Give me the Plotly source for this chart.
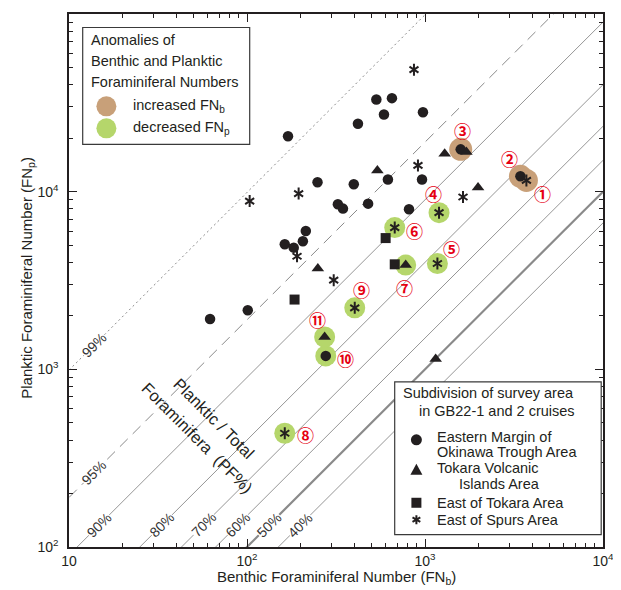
import numpy as np
import plotly.graph_objects as go

# ---------------- data ----------------
# Eastern Margin of Okinawa Trough Area (circles)
em_B = [170, 420, 533, 652, 588, 974, 249, 398, 619, 962, 324, 346, 479, 813,
        214, 206, 163, 183, 101, 62, 1587, 3436, 277]
em_P = [20500, 24100, 33000, 33600, 27200, 28000, 11300, 11000, 11700, 11700,
        8490, 8030, 8560, 7960, 6010, 5260, 5060, 4840, 2150, 1920, 17300, 12200, 1190]
# Tokara Volcanic Islands Area (triangles)
tv_B = [1708, 1290, 540, 1986, 250, 779, 273, 1148]
tv_P = [16700, 16350, 13170, 10570, 3690, 3860, 1520, 1143]
# East of Tokara Area (squares)
et_B = [185, 601, 676]
et_P = [2470, 5480, 3900]
# East of Spurs Area (asterisks)
es_B = [867, 913, 1635, 3713, 195, 103.5, 191, 307, 1199, 676, 1174, 403, 163]
es_P = [48600, 14050, 9330, 11570, 9750, 8850, 4330, 3175, 7620, 6280, 3940, 2220, 437]

# Anomalies (numbered samples)
anom_no = [1, 2, 3, 4, 5, 6, 7, 8, 9, 10, 11]
anom_B = [3713, 3436, 1587, 1199, 1174, 676, 779, 163, 403, 277, 273]
anom_P = [11570, 12200, 17300, 7620, 3940, 6280, 3860, 437, 2220, 1190, 1520]
anom_kind = ["b", "b", "b", "p", "p", "p", "p", "p", "p", "p", "p"]

# PF% reference lines
pf_levels = [99, 95, 90, 80, 70, 60, 50, 40]
pf_label_P = [1370, 261, 133, 133, 133, 133, 133, 133]

x_tickvals = [10, 100, 1000, 10000]
x_ticktext = ["10", "10<sup>2</sup>", "10<sup>3</sup>", "10<sup>4</sup>"]
y_tickvals = [100, 1000, 10000, 100000]
y_ticktext = ["10<sup>2</sup>", "10<sup>3</sup>", "10<sup>4</sup>", "10<sup>5</sup>"]

# ---------------- layout helpers ----------------
OFF = 8                      # page body margin of the html page
SW, SH = 621, 590            # screen size
PL, PR, PT, PB = 69.3, 603.3, 13.5, 547.3   # plot area in screen pixels
PW, PH = PR - PL, PB - PT
W, H = SW - OFF, SH - OFF
def PX(px): return (px - PL) / PW
def PY(py): return (PB - py) / PH

FONT = "Liberation Sans, Arial, Helvetica, sans-serif"
INK = "#231f20"
TAN = "#c8a079"
GREEN = "#b5d66b"
RED = "#e60012"

fig = go.Figure()

# reference lines
for lev in pf_levels:
    r = lev / (100 - lev)
    xs = [10, 10000]
    ys = [v * r for v in xs]
    if lev == 99:
        line = dict(color="#8a8a8a", width=1, dash="2px,3px")
    elif lev == 95:
        line = dict(color="#8a8a8a", width=1, dash="11px,7px")
    elif lev == 50:
        line = dict(color="#8a8a8a", width=2.2)
    else:
        line = dict(color="#8a8a8a", width=0.9)
    fig.add_trace(go.Scatter(x=xs, y=ys, mode="lines", line=line,
                             hoverinfo="skip", showlegend=False))

# anomaly halos
for kind, col, sz in [("b", TAN, 23), ("p", GREEN, 21)]:
    bx = [b for b, k in zip(anom_B, anom_kind) if k == kind]
    py_ = [p for p, k in zip(anom_P, anom_kind) if k == kind]
    fig.add_trace(go.Scatter(x=bx, y=py_, mode="markers",
                             marker=dict(size=sz, color=col, line=dict(width=0)),
                             showlegend=False, hoverinfo="skip"))

# data markers
fig.add_trace(go.Scatter(x=em_B, y=em_P, mode="markers",
                         marker=dict(symbol="circle", size=10.5, color=INK),
                         showlegend=False))
fig.add_trace(go.Scatter(x=tv_B, y=tv_P, mode="markers",
                         marker=dict(symbol="triangle-up", size=11, color=INK),
                         showlegend=False))
fig.add_trace(go.Scatter(x=et_B, y=et_P, mode="markers",
                         marker=dict(symbol="square", size=10, color=INK),
                         showlegend=False))
for sym in ["y-up-open", "y-down-open"]:
    fig.add_trace(go.Scatter(x=es_B, y=es_P, mode="markers",
                             marker=dict(symbol=sym, size=7.5, color=INK,
                                         line=dict(width=2, color=INK)),
                             showlegend=False))

annotations = []
def ann(x, y, text, size=14.5, xanchor="center", yanchor="middle", angle=0, **kw):
    annotations.append(dict(x=x, y=y, xref="paper", yref="paper", text=text,
                            showarrow=False, xanchor=xanchor, yanchor=yanchor,
                            textangle=angle,
                            font=dict(family=FONT, size=size, color=INK), **kw))

# circled number labels
offsets = {1: (16, 13), 2: (-11, -18), 3: (2, -19), 4: (-6, -19), 5: (14, -15),
           6: (20, 3), 7: (-1, 22), 8: (21, 1), 9: (7, -18), 10: (20, 3), 11: (-7, -18)}
for n, b, p in zip(anom_no, anom_B, anom_P):
    dx, dy = offsets[n]
    annotations.append(dict(x=np.log10(b), y=np.log10(p), xref="x", yref="y",
                            text=chr(0x245F + n), showarrow=False,
                            xanchor="center", yanchor="middle",
                            xshift=dx, yshift=-dy,
                            font=dict(family="Noto Sans CJK JP", size=17, color=RED,
                                      weight="bold")))

# PF line labels
for lev, lp in zip(pf_levels, pf_label_P):
    r = lev / (100 - lev)
    annotations.append(dict(x=np.log10(lp / r), y=np.log10(lp), xref="x", yref="y",
                            text=f"{lev}%", showarrow=False, textangle=-45,
                            xanchor="center", yanchor="middle",
                            bgcolor="white", borderpad=0,
                            font=dict(family=FONT, size=14, color="#333333")))

# Planktic / Total Foraminifera (PF%)
ann(PX(213.8), PY(418.3), "Planktic / Total", size=16.5, angle=45)
ann(PX(197.8), PY(438.2), "Foraminifera\u00a0\u00a0(PF%)", size=16.5, angle=45)

# axis titles
ann(PX(336.3), PY(578), "Benthic Foraminiferal Number (FN<sub>b</sub>)", size=15)
ann(PX(27), PY(278), "Planktic Foraminiferal Number (FN<sub>p</sub>)", size=15, angle=-90)

shapes = []
# legend 1
shapes.append(dict(type="rect", xref="paper", yref="paper",
                   x0=PX(83), x1=PX(250), y0=PY(144), y1=PY(27),
                   fillcolor="white", line=dict(color="#3a3a3a", width=1.2), layer="above"))
for txt, yy in [("Anomalies of", 40), ("Benthic and Planktic", 61), ("Foraminiferal Numbers", 82)]:
    ann(PX(89), PY(yy), txt, xanchor="left")
for col, txt, yy in [(TAN, "increased FN<sub>b</sub>", 106), (GREEN, "decreased FN<sub>p</sub>", 128)]:
    shapes.append(dict(type="circle", xref="paper", yref="paper",
                       xsizemode="pixel", ysizemode="pixel",
                       xanchor=PX(106.7), yanchor=PY(yy), x0=-10, x1=10, y0=-10, y1=10,
                       fillcolor=col, line=dict(width=0), layer="above"))
    ann(PX(131), PY(yy), txt, xanchor="left")

# legend 2
shapes.append(dict(type="rect", xref="paper", yref="paper",
                   x0=PX(395), x1=PX(601.5), y0=PY(535), y1=PY(382),
                   fillcolor="white", line=dict(color="#3a3a3a", width=1.2), layer="above"))
for txt, xx, yy in [("Subdivision of survey area", 401, 393.5),
                    ("in GB22-1 and 2 cruises", 417, 411),
                    ("Eastern Margin of", 435, 437), ("Okinawa Trough Area", 435, 452),
                    ("Tokara Volcanic", 435, 468.5), ("Islands Area", 457, 484),
                    ("East of Tokara Area", 435, 503), ("East of Spurs Area", 435, 520)]:
    ann(PX(xx), PY(yy), txt, xanchor="left")
sym_x = PX(416.7)
shapes.append(dict(type="circle", xref="paper", yref="paper", xsizemode="pixel", ysizemode="pixel",
                   xanchor=sym_x, yanchor=PY(440), x0=-5.5, x1=5.5, y0=-5.5, y1=5.5,
                   fillcolor=INK, line=dict(width=0), layer="above"))
shapes.append(dict(type="path", xref="paper", yref="paper", xsizemode="pixel", ysizemode="pixel",
                   xanchor=sym_x, yanchor=PY(470), path="M -6,-5 L 6,-5 L 0,6 Z",
                   fillcolor=INK, line=dict(width=0), layer="above"))
shapes.append(dict(type="rect", xref="paper", yref="paper", xsizemode="pixel", ysizemode="pixel",
                   xanchor=sym_x, yanchor=PY(503), x0=-5, x1=5, y0=-5, y1=5,
                   fillcolor=INK, line=dict(width=0), layer="above"))
shapes.append(dict(type="path", xref="paper", yref="paper", xsizemode="pixel", ysizemode="pixel",
                   xanchor=sym_x, yanchor=PY(520),
                   path="M 0,-4.5 L 0,4.5 M -3.9,-2.25 L 3.9,2.25 M -3.9,2.25 L 3.9,-2.25",
                   line=dict(width=2, color=INK), layer="above"))

minor_x = [k * 10 ** e for e in range(1, 4) for k in range(2, 10)]
minor_y = [k * 10 ** e for e in range(2, 5) for k in range(2, 10)]

axis_common = dict(type="log", showgrid=False, zeroline=False, showline=True,
                   linecolor=INK, linewidth=1.5, mirror="ticks", ticks="inside",
                   ticklen=8, tickwidth=1.2, tickcolor=INK, automargin=False,
                   tickfont=dict(family=FONT, size=14, color=INK))

fig.update_layout(
    width=W, height=H,
    margin=dict(l=PL - OFF, r=SW - PR, t=PT - OFF, b=SH - PB, autoexpand=False),
    paper_bgcolor="white", plot_bgcolor="white",
    showlegend=False,
    xaxis=dict(range=[1, 4], tickvals=x_tickvals, ticktext=x_ticktext,
               minor=dict(ticks="inside", ticklen=4, tickwidth=1, tickcolor=INK, tickvals=minor_x),
               **axis_common),
    yaxis=dict(range=[2, 5], tickvals=y_tickvals, ticktext=y_ticktext, ticklabelstandoff=6,
               minor=dict(ticks="inside", ticklen=4, tickwidth=1, tickcolor=INK, tickvals=minor_y),
               **axis_common),
    annotations=annotations,
    shapes=shapes,
    font=dict(family=FONT, color=INK),
)

fig.write_html("out.html")
